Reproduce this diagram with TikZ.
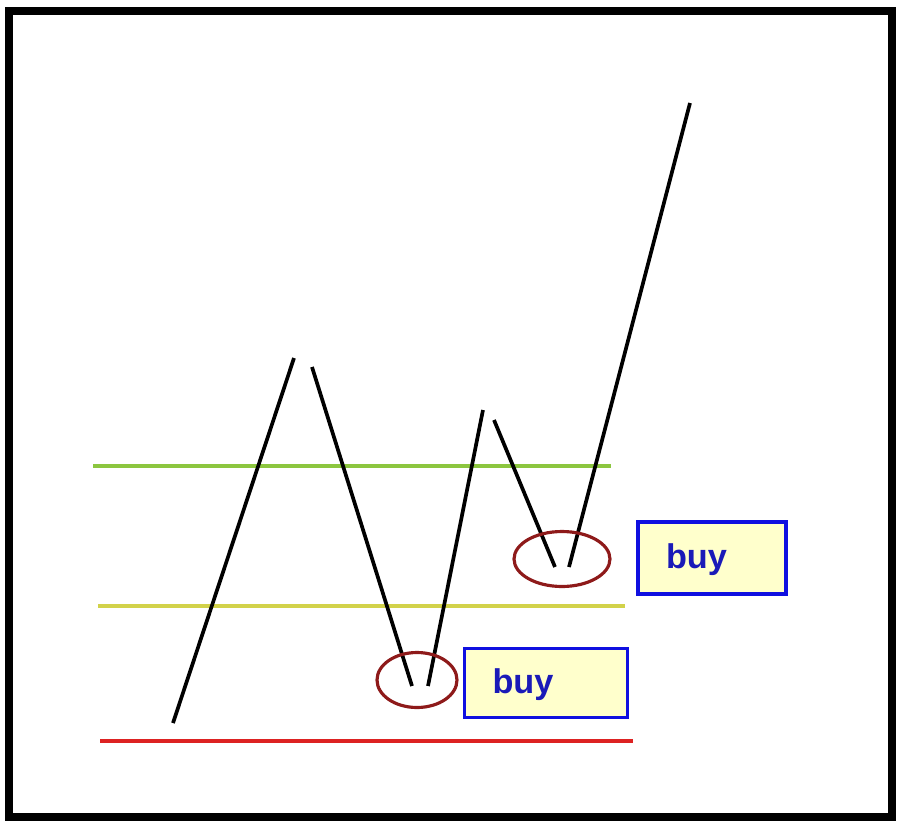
\documentclass[tikz,border=0pt]{standalone}
\usepackage{fontspec}
\setsansfont{Liberation Sans}
\usepackage{xcolor}
\usetikzlibrary{shapes.geometric, positioning}

\definecolor{lvlgreen}{HTML}{8CC63F}
\definecolor{lvlyellow}{HTML}{D2D24A}
\definecolor{lvlred}{HTML}{DD2222}
\definecolor{ringred}{HTML}{8E1A1A}
\definecolor{boxfill}{HTML}{FFFFCC}
\definecolor{boxblue}{HTML}{1010E0}
\definecolor{textblue}{HTML}{1A1AB8}

\tikzset{
  price/.style={line width=2.1pt, black},
  level/.style={line width=2.6pt},
  ring/.style={ellipse, draw=ringred, line width=1.8pt},
  buybox/.style={draw=boxblue, fill=boxfill, line width=1.8pt, align=left,
    inner xsep=0.56cm, font=\sffamily\bfseries\fontsize{19.5}{22}\selectfont,
    text=textblue, text height=3ex, text depth=0.2ex}
}

\begin{document}
\begin{tikzpicture}[x=0.02cm, y=-0.02cm]
\useasboundingbox (0,0) rectangle (897,823);
\fill[white] (0,0) rectangle (897,823);
\draw[line width=5pt] (9,11) rectangle (892,817);
% support and resistance levels
\draw[level, lvlgreen] (93,466) -- (611,466);
\draw[level, lvlyellow] (98,606) -- (625,606);
\draw[level, lvlred] (100,741) -- (633,741);
% price swings
\draw[price] (173,723) -- (294,358);
\draw[price] (312,367) -- (412,686);
\draw[price] (428,686) -- (483,410);
\draw[price] (494,420) -- (555,567);
\draw[price] (569,567) -- (690,103);
% entry marks
\node[ring, minimum width=1.6cm, minimum height=1.1cm] (ringlow) at (417,680) {};
\node[ring, minimum width=1.92cm, minimum height=1.1cm] (ringhigh) at (562,559) {};
\node[buybox, text width=2.14cm, minimum height=1.38cm] (buylow) at (546,683) {buy};
\node[buybox, text width=1.84cm, minimum height=1.44cm] (buyhigh) at (712,558) {buy};
\end{tikzpicture}
\end{document}
